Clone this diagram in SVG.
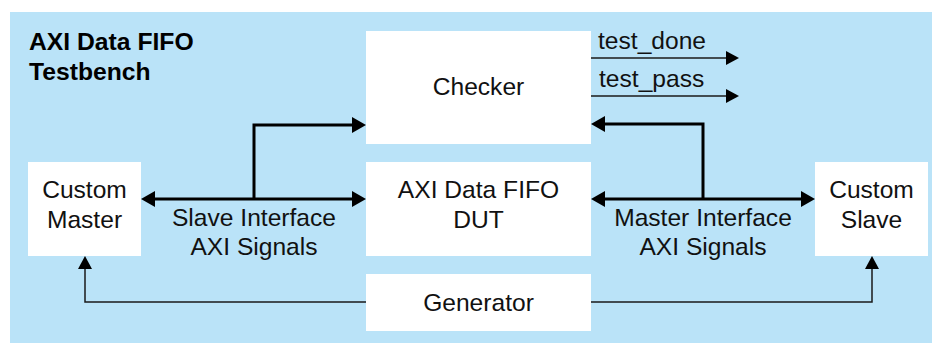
<svg xmlns="http://www.w3.org/2000/svg" width="932" height="343" viewBox="0 0 932 343">
  <style>
    .box { fill: #ffffff; }
    .lbl { font-family: "Liberation Sans", Arial, sans-serif; font-size: 24.6px; fill: #111111; text-anchor: middle; }
    .sig { font-family: "Liberation Sans", Arial, sans-serif; font-size: 24.6px; fill: #111111; }
    .title { font-family: "Liberation Sans", Arial, sans-serif; font-size: 24.7px; font-weight: bold; fill: #000000; }
    .bus { fill: none; stroke: #000000; stroke-width: 3; }
    .wire { fill: none; stroke: #1a1a1a; stroke-width: 1.5; }
  </style>
  <defs>
    <marker id="headBus" markerUnits="userSpaceOnUse" viewBox="0 0 14 16" markerWidth="14" markerHeight="16" refX="0" refY="8" orient="auto-start-reverse">
      <path d="M0,0 L14,8 L0,16 z" fill="#000000"/>
    </marker>
    <marker id="headWire" markerUnits="userSpaceOnUse" viewBox="0 0 13 14" markerWidth="13" markerHeight="14" refX="0" refY="7" orient="auto">
      <path d="M0,0 L13,7 L0,14 z" fill="#000000"/>
    </marker>
  </defs>

  <!-- testbench frame -->
  <rect x="10" y="12" width="922" height="331" fill="#bae3f8"/>
  <text class="title" x="29" y="50">AXI Data FIFO</text>
  <text class="title" x="29" y="80">Testbench</text>

  <g id="checker">
    <rect class="box" x="366" y="31" width="225" height="113"/>
    <text class="lbl" x="478.5" y="95">Checker</text>
  </g>
  <g id="dut">
    <rect class="box" x="366" y="162" width="225" height="94"/>
    <text class="lbl" x="478.5" y="198">AXI Data FIFO</text>
    <text class="lbl" x="478.5" y="228">DUT</text>
  </g>
  <g id="generator">
    <rect class="box" x="366" y="274" width="225" height="57"/>
    <text class="lbl" x="478.5" y="311">Generator</text>
  </g>
  <g id="custom-master">
    <rect class="box" x="28" y="162" width="113" height="94"/>
    <text class="lbl" x="84.5" y="198">Custom</text>
    <text class="lbl" x="84.5" y="228">Master</text>
  </g>
  <g id="custom-slave">
    <rect class="box" x="815" y="162" width="113" height="94"/>
    <text class="lbl" x="871.5" y="198">Custom</text>
    <text class="lbl" x="871.5" y="228">Slave</text>
  </g>

  <g id="connectors">
    <!-- slave interface bus -->
    <path class="bus" d="M155,199 H352" marker-start="url(#headBus)" marker-end="url(#headBus)"/>
    <path class="bus" d="M254,199 V125 H352" marker-end="url(#headBus)"/>
    <!-- master interface bus -->
    <path class="bus" d="M605,199 H801" marker-start="url(#headBus)" marker-end="url(#headBus)"/>
    <path class="bus" d="M703,199 V124 H605" marker-end="url(#headBus)"/>
    <!-- status outputs -->
    <path class="wire" d="M591,58 H726" marker-end="url(#headWire)"/>
    <path class="wire" d="M591,96 H726" marker-end="url(#headWire)"/>
    <!-- generator stimulus -->
    <path class="wire" d="M366,302 H85 V269" marker-end="url(#headWire)"/>
    <path class="wire" d="M591,302 H872 V269" marker-end="url(#headWire)"/>
  </g>

  <text class="sig" x="598" y="49">test_done</text>
  <text class="sig" x="599" y="87">test_pass</text>
  <text class="lbl" x="254" y="226">Slave Interface</text>
  <text class="lbl" x="254" y="255">AXI Signals</text>
  <text class="lbl" x="703" y="226">Master Interface</text>
  <text class="lbl" x="703" y="255">AXI Signals</text>
</svg>
